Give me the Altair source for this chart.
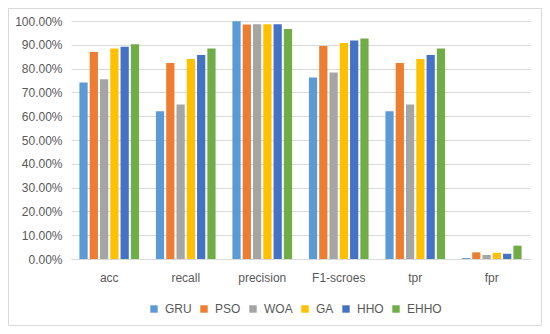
import altair as alt
import pandas as pd

categories = ["acc", "recall", "precision", "F1-scroes", "tpr", "fpr"]
models = ["GRU", "PSO", "WOA", "GA", "HHO", "EHHO"]
colors = ["#5B9BD5", "#ED7D31", "#A5A5A5", "#FFC000", "#4472C4", "#70AD47"]

gru = [0.742, 0.621, 0.999, 0.763, 0.621, 0.004]
pso = [0.870, 0.824, 0.985, 0.895, 0.824, 0.028]
woa = [0.755, 0.649, 0.986, 0.784, 0.649, 0.017]
ga = [0.884, 0.840, 0.986, 0.908, 0.840, 0.026]
hho = [0.892, 0.857, 0.986, 0.918, 0.857, 0.022]
ehho = [0.902, 0.884, 0.966, 0.926, 0.884, 0.056]

series = {"GRU": gru, "PSO": pso, "WOA": woa, "GA": ga, "HHO": hho, "EHHO": ehho}
rows = []
for m in models:
    for c, v in zip(categories, series[m]):
        rows.append({"metric": c, "model": m, "value": v})
df = pd.DataFrame(rows)

W, H = 459, 238
PL, PT, PR, PB = 63, 13, 12, 67

font = "Liberation Sans"
gray = "#595959"

bars = alt.Chart(df).mark_bar().encode(
    x=alt.X("metric:N", sort=categories,
            scale=alt.Scale(paddingInner=0.22, paddingOuter=0.11),
            axis=alt.Axis(title=None, labelAngle=0, ticks=False, grid=False,
                          domain=True, domainColor="#D9D9D9", labelPadding=13,
                          labelFontSize=12, labelColor=gray, labelFont=font)),
    xOffset=alt.XOffset("model:N", sort=models, scale=alt.Scale(paddingInner=0.2)),
    y=alt.Y("value:Q", scale=alt.Scale(domain=[0, 1], nice=False),
            axis=alt.Axis(title=None, format=".2%",
                          values=[i / 10 for i in range(11)],
                          ticks=False, domain=False, grid=True, gridColor="#D9D9D9",
                          labelPadding=9, labelFontSize=12, labelColor=gray,
                          labelFont=font)),
    color=alt.Color("model:N", sort=models,
                    scale=alt.Scale(domain=models, range=colors),
                    legend=alt.Legend(title=None, orient="none", direction="horizontal",
                                      legendX=77, legendY=282,
                                      symbolType="square", symbolSize=55,
                                      symbolStrokeWidth=0, labelOffset=5,
                                      columnPadding=6, labelFontSize=12,
                                      labelColor=gray, labelFont=font)),
)

frame = alt.Chart(pd.DataFrame({"a": [0]})).mark_rect(
    fill=None, stroke="#D9D9D9", strokeWidth=1
).encode(
    x=alt.value(-PL + 0.5), x2=alt.value(W + PR - 0.5),
    y=alt.value(-PT + 0.5), y2=alt.value(H + PB - 0.5),
)

chart = alt.layer(bars, frame).properties(
    width=W, height=H,
    autosize=alt.AutoSizeParams(type="none"),
    padding={"left": PL, "top": PT, "right": PR, "bottom": PB},
    background="white",
).configure_view(stroke=None)

chart.save("out.html", embed_options={"renderer": "svg", "actions": False})
